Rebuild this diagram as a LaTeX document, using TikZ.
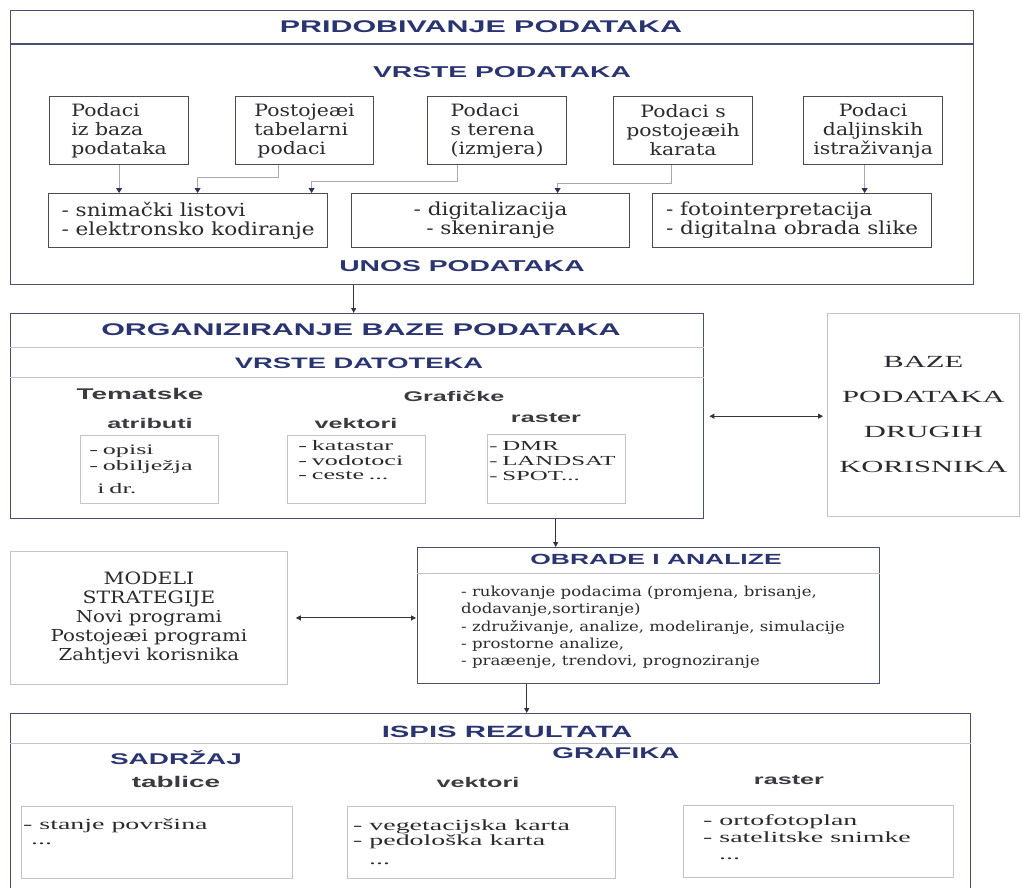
\documentclass[tikz,border=0pt]{standalone}
\usepackage{fontspec}
\setmainfont{DejaVu Serif}[FakeStretch=1.2]
\newfontfamily\widefont{Liberation Serif}[FakeStretch=1.8]
\newfontfamily\headfont{Liberation Sans}[FakeStretch=1.8]
\usetikzlibrary{arrows.meta}

\definecolor{navy}{HTML}{2A3470}
\definecolor{framec}{HTML}{4B5070}
\definecolor{inframe}{HTML}{4A4A58}
\definecolor{lightc}{HTML}{C4C4C8}
\definecolor{feedc}{HTML}{A8A8B0}
\definecolor{tipc}{HTML}{2E3352}
\definecolor{textc}{HTML}{2A2A30}
\definecolor{subc}{HTML}{3A3A40}
\definecolor{darkc}{HTML}{333338}

\tikzset{
  mainbox/.style={draw=framec, line width=1.4pt, anchor=north west, inner sep=0pt},
  databox/.style={draw=inframe, line width=1.2pt, anchor=north west, inner sep=0pt, text=textc},
  thinbox/.style={draw=lightc, line width=0.8pt, anchor=north west, inner sep=0pt, text=textc},
  bighead/.style={text=navy, font=\headfont\bfseries\fontsize{#1}{18}\selectfont},
  bighead/.default=16.4,
  subhead/.style={text=subc, font=\headfont\bfseries\fontsize{#1}{16}\selectfont},
  subhead/.default=14,
  serif/.style 2 args={text=textc, font=\fontsize{#1}{#2}\selectfont},
  wide/.style 2 args={text=textc, font=\widefont\fontsize{#1}{#2}\selectfont},
  feed/.style={feedc, line width=0.8pt, -{Triangle[length=5pt,width=6pt,color=tipc]}},
  flow/.style={darkc, line width=1pt, -{Triangle[length=5pt,width=5pt]}},
  twoway/.style={darkc, line width=1pt, {Triangle[length=5pt,width=5pt]}-{Triangle[length=5pt,width=5pt]}},
}

\begin{document}
\begin{tikzpicture}[x=1pt,y=-1pt]
\useasboundingbox (0,0) rectangle (1022,887);
\clip (0,0) rectangle (1022,887);

% pridobivanje podataka
\node[mainbox, minimum width=963pt, minimum height=274pt] (unos) at (10,10) {};
\draw[framec, line width=1.4pt] ([yshift=-34pt]unos.north west) -- ([yshift=-34pt]unos.north east);
\node[bighead=16.9] (tpri) at (481,27) {PRIDOBIVANJE PODATAKA};
\node[bighead=15.7] (tvrste) at (502,72) {VRSTE PODATAKA};

\node[databox, minimum width=139pt, minimum height=68pt, align=left, serif={17}{19}] (baza) at (49,96) {Podaci\\iz baza\\podataka};
\node[databox, minimum width=138pt, minimum height=68pt, align=left, serif={17}{19}] (tab) at (235,96) {Postojeæi\\tabelarni\\\hspace{3pt}podaci};
\node[databox, minimum width=139pt, minimum height=68pt, align=left, serif={17}{19}] (teren) at (427,96) {Podaci\\s terena\\(izmjera)};
\node[databox, minimum width=139pt, minimum height=68pt, align=center, serif={17}{19}] (karte) at (613,96) {Podaci s\\postojeæih\\karata};
\node[databox, minimum width=139pt, minimum height=68pt, align=center, serif={17}{19}] (dalj) at (803,96) {Podaci\\daljinskih\\istraživanja};

\node[databox, minimum width=279pt, minimum height=54pt, align=left, serif={18}{19}] (snim) at (48,193) {- snimački listovi\\- elektronsko kodiranje};
\node[databox, minimum width=278pt, minimum height=54pt, align=center, serif={18}{19}] (digi) at (351,193) {- digitalizacija\\- skeniranje};
\node[databox, minimum width=279pt, minimum height=54pt, align=left, serif={18}{19}] (foto) at (652,193) {- fotointerpretacija\\- digitalna obrada slike};

\draw[feed] (baza) -- (baza |- snim.north);
\draw[feed] ([xshift=-26pt]tab.south) -- ++(0,12) -| ([xshift=9.5pt]snim.north);
\draw[feed] ([xshift=-39.5pt]teren.south) -- ++(0,16) -| ([xshift=123.5pt]snim.north);
\draw[feed] ([xshift=-11.5pt]karte.south) -- ++(0,18) -| ([xshift=67pt]digi.north);
\draw[feed] ([xshift=-8.5pt]dalj.south) -- ([xshift=-8.5pt]dalj.south |- foto.north);

\node[bighead=15.7] (tunos) at (462,266) {UNOS PODATAKA};

% organiziranje baze
\node[mainbox, minimum width=693pt, minimum height=205pt] (org) at (10,313) {};
\draw[lightc, line width=1pt] ([yshift=-34pt]org.north west) -- ([yshift=-34pt]org.north east);
\draw[lightc, line width=1pt] ([yshift=-64pt]org.north west) -- ([yshift=-64pt]org.north east);
\node[bighead=16.9] (torg) at (361,330) {ORGANIZIRANJE BAZE PODATAKA};
\node[bighead=15.2] (tdat) at (359,363) {VRSTE DATOTEKA};
\node[subhead=15.5] (ttem) at (140,394) {Tematske};
\node[subhead] (tgraf) at (454,396) {Grafičke};
\node[subhead] (tatr) at (150,423) {atributi};
\node[subhead] (tvek) at (356,423) {vektori};
\node[subhead] (tras) at (546,418) {raster};

\node[thinbox, minimum height=68pt, text width=120pt, inner xsep=9pt, align=left, wide={14.5}{16}] (opis) at (80,435) {- opisi\\- obilježja\\[7pt]\hspace{8pt}i dr.};
\node[thinbox, minimum height=68pt, text width=116pt, inner xsep=11pt, align=left, wide={14.5}{14.5}] (kat) at (287,435) {- katastar\\- vodotoci\\- ceste ...\\[4pt]~};
\node[thinbox, minimum height=69pt, text width=134pt, inner xsep=2pt, align=left, wide={13.8}{15}] (dmr) at (487,434) {- DMR\\- LANDSAT\\- SPOT...\\[1pt]~};

\node[thinbox, minimum width=192pt, minimum height=203pt, align=center, wide={17}{35}] (baze) at (827,313) {BAZE\\PODATAKA\\DRUGIH\\KORISNIKA};
\draw[twoway, shorten <=5pt, shorten >=4pt] (org.east) -- (org.east -| baze.west);

% modeli, obrade i analize
\node[thinbox, minimum width=277pt, minimum height=133pt, align=center, serif={16.5}{19}] (mod) at (10,551) {{\fontsize{17}{19}\selectfont MODELI}\\{\fontsize{17}{19}\selectfont STRATEGIJE}\\Novi programi\\Postojeæi programi\\Zahtjevi korisnika};
\node[mainbox, minimum width=462pt, minimum height=136pt] (obr) at (417,547) {};
\draw[lightc, line width=1pt] ([yshift=-26pt]obr.north west) -- ([yshift=-26pt]obr.north east);
\node[bighead=14.7] (tobr) at (656,559) {OBRADE I ANALIZE};
\node[anchor=north west, align=left, inner sep=0pt, serif={13.8}{17.2}] (obrtxt) at (461,586) {- rukovanje podacima (promjena, brisanje,\\dodavanje,sortiranje)\\- združivanje, analize, modeliranje, simulacije\\- prostorne analize,\\- praæenje, trendovi, prognoziranje};

\draw[flow] ([xshift=-138.5pt]unos.south) -- ([xshift=-138.5pt]unos.south |- org.north);
\draw[flow] ([xshift=198.5pt]org.south) -- ([xshift=198.5pt]org.south |- obr.north);
\draw[twoway, shorten <=8pt, shorten >=1pt] (mod.east) -- (mod.east -| obr.west);

% ispis rezultata
\node[mainbox, minimum width=960pt, minimum height=190pt] (isp) at (10,713) {};
\draw[lightc, line width=1pt] ([yshift=-30pt]isp.north west) -- ([yshift=-30pt]isp.north east);
\draw[flow] ([xshift=-122pt]obr.south) -- ([xshift=-122pt]obr.south |- isp.north);
\node[bighead=16.3] (tisp) at (507,732) {ISPIS REZULTATA};
\node[bighead=15.5] (tsad) at (176,758) {SADRŽAJ};
\node[bighead=15.5] (tgra) at (616,753) {GRAFIKA};
\node[subhead=15.5] (ttab) at (176,782) {tablice};
\node[subhead] (tvek2) at (478,782) {vektori};
\node[subhead] (tras2) at (789,780) {raster};

\node[thinbox, minimum width=271pt, minimum height=72pt] (povr) at (21,806) {};
\node[anchor=north west, align=left, inner sep=0pt, wide={15.5}{15}] (povrtxt) at (23,818) {- stanje površina\\\hspace{8pt}...};
\node[thinbox, minimum width=268pt, minimum height=72pt] (veg) at (347,806) {};
\node[anchor=north west, align=left, inner sep=0pt, wide={15.5}{15}] (vegtxt) at (353,820) {- vegetacijska karta\\- pedološka karta\\[4pt]\hspace{16pt}...};
\node[thinbox, minimum width=270pt, minimum height=72pt] (orto) at (683,805) {};
\node[anchor=north west, align=left, inner sep=0pt, wide={15.5}{17}] (ortotxt) at (703,814) {- ortofotoplan\\- satelitske snimke\\\hspace{16pt}...};
\end{tikzpicture}
\end{document}
